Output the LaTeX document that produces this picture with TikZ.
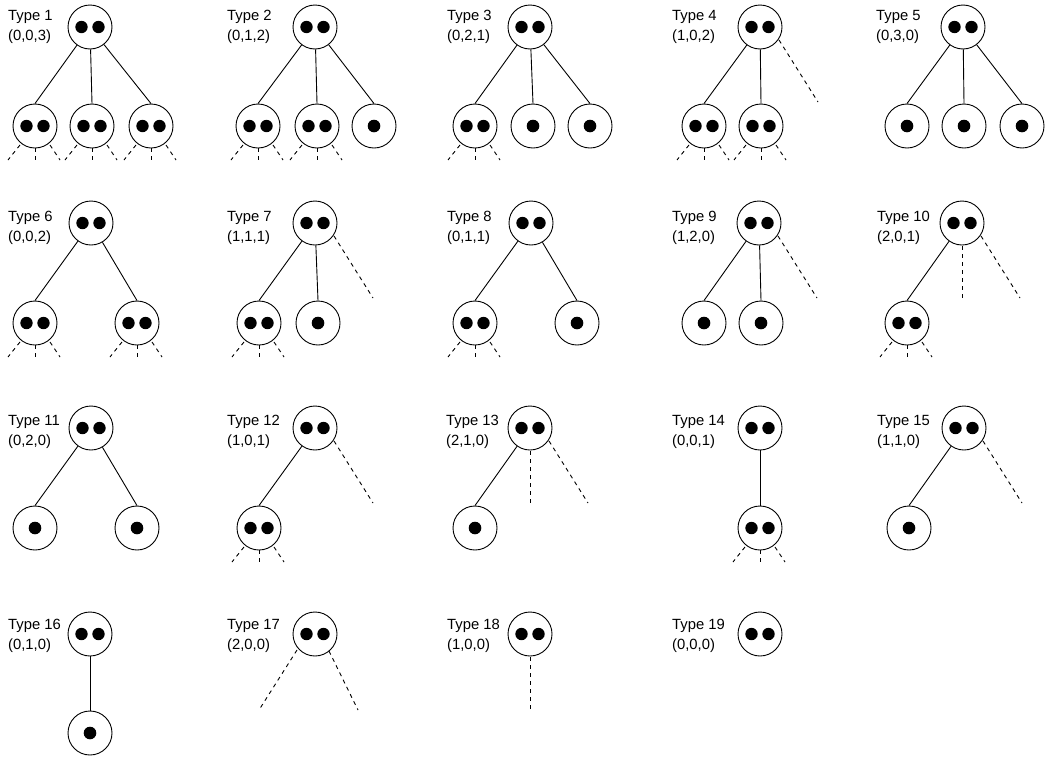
\documentclass[tikz,border=0pt]{standalone}
\usepackage{fontspec}
\setmainfont{Liberation Sans}
\begin{document}
\begin{tikzpicture}[x=1pt,y=-1pt,
  nd/.style={circle, draw, line width=0.9pt, minimum size=44pt, inner sep=0pt},
  dd/.style={nd, path picture={\fill ([xshift=-8.5pt]path picture bounding box.center) circle [radius=6.2pt];
                               \fill ([xshift=8.5pt]path picture bounding box.center) circle [radius=6.2pt];}},
  sd/.style={nd, path picture={\fill (path picture bounding box.center) circle [radius=6.3pt];}},
  edge/.style={line width=0.9pt},
  dl/.style={line width=0.9pt, dash pattern=on 4pt off 4pt},
  lbl/.style={anchor=west, align=left, inner sep=0pt, font=\fontsize{14.8}{20}\selectfont},
]
\useasboundingbox (0,0) rectangle (1046,758);
\newcommand\mystubs[1]{%
  \draw[dl] ([shift={(-15,19)}]#1.center) -- ([shift={(-27,34)}]#1.center);
  \draw[dl] ([shift={(0,22)}]#1.center) -- ([shift={(0,34)}]#1.center);
  \draw[dl] ([shift={(15,19)}]#1.center) -- ([shift={(25,34)}]#1.center);}
\newcommand\myrdash[1]{\draw[dl] ([shift={(19,13)}]#1.center) -- ([shift={(58,75)}]#1.center);}
\newcommand\myvdash[1]{\draw[dl] ([shift={(0,23)}]#1.center) -- ([shift={(0,77)}]#1.center);}

% ---------- Row 1 ----------
\node[lbl] (l1) at (8,27) {Type 1\\(0,0,3)};
\node[dd] (t1) at (90,27) {};
\node[dd] (t1a) at (35,126) {};
\node[dd] (t1b) at (92,126) {};
\node[dd] (t1c) at (151,126) {};
\draw[edge] (t1) -- (t1a.north); \draw[edge] (t1) -- (t1b.north); \draw[edge] (t1) -- (t1c.north);
\mystubs{t1a}\mystubs{t1b}\mystubs{t1c}

\node[lbl] (l2) at (227,27) {Type 2\\(0,1,2)};
\node[dd] (t2) at (315,27) {};
\node[dd] (t2a) at (258,126) {};
\node[dd] (t2b) at (317,126) {};
\node[sd] (t2c) at (374,126) {};
\draw[edge] (t2) -- (t2a.north); \draw[edge] (t2) -- (t2b.north); \draw[edge] (t2) -- (t2c.north);
\mystubs{t2a}\mystubs{t2b}

\node[lbl] (l3) at (447,27) {Type 3\\(0,2,1)};
\node[dd] (t3) at (530,27) {};
\node[dd] (t3a) at (475,126) {};
\node[sd] (t3b) at (533,126) {};
\node[sd] (t3c) at (590,126) {};
\draw[edge] (t3) -- (t3a.north); \draw[edge] (t3) -- (t3b.north); \draw[edge] (t3) -- (t3c.north);
\mystubs{t3a}

\node[lbl] (l4) at (672,27) {Type 4\\(1,0,2)};
\node[dd] (t4) at (760,27) {};
\node[dd] (t4a) at (704,126) {};
\node[dd] (t4b) at (761,126) {};
\draw[edge] (t4) -- (t4a.north); \draw[edge] (t4) -- (t4b.north);
\mystubs{t4a}\mystubs{t4b}
\myrdash{t4}

\node[lbl] (l5) at (876,27) {Type 5\\(0,3,0)};
\node[dd] (t5) at (963,27) {};
\node[sd] (t5a) at (907,126) {};
\node[sd] (t5b) at (964,126) {};
\node[sd] (t5c) at (1022,126) {};
\draw[edge] (t5) -- (t5a.north); \draw[edge] (t5) -- (t5b.north); \draw[edge] (t5) -- (t5c.north);

% ---------- Row 2 ----------
\node[lbl] (l6) at (8,228) {Type 6\\(0,0,2)};
\node[dd] (t6) at (91,223) {};
\node[dd] (t6a) at (35,323) {};
\node[dd] (t6b) at (137,323) {};
\draw[edge] (t6) -- (t6a.north); \draw[edge] (t6) -- (t6b.north);
\mystubs{t6a}\mystubs{t6b}

\node[lbl] (l7) at (227,228) {Type 7\\(1,1,1)};
\node[dd] (t7) at (315,223) {};
\node[dd] (t7a) at (259,323) {};
\node[sd] (t7b) at (318,323) {};
\draw[edge] (t7) -- (t7a.north); \draw[edge] (t7) -- (t7b.north);
\mystubs{t7a}
\myrdash{t7}

\node[lbl] (l8) at (447,228) {Type 8\\(0,1,1)};
\node[dd] (t8) at (531,223) {};
\node[dd] (t8a) at (475,323) {};
\node[sd] (t8b) at (577,323) {};
\draw[edge] (t8) -- (t8a.north); \draw[edge] (t8) -- (t8b.north);
\mystubs{t8a}

\node[lbl] (l9) at (672,228) {Type 9\\(1,2,0)};
\node[dd] (t9) at (759,223) {};
\node[sd] (t9a) at (704,323) {};
\node[sd] (t9b) at (761,323) {};
\draw[edge] (t9) -- (t9a.north); \draw[edge] (t9) -- (t9b.north);
\myrdash{t9}

\node[lbl] (l10) at (877,228) {Type 10\\(2,0,1)};
\node[dd] (t10) at (962,223) {};
\node[dd] (t10a) at (907,323) {};
\draw[edge] (t10) -- (t10a.north);
\mystubs{t10a}
\myvdash{t10}\myrdash{t10}

% ---------- Row 3 ----------
\node[lbl] (l11) at (8,432) {Type 11\\(0,2,0)};
\node[dd] (t11) at (91,428) {};
\node[sd] (t11a) at (35,528) {};
\node[sd] (t11b) at (137,528) {};
\draw[edge] (t11) -- (t11a.north); \draw[edge] (t11) -- (t11b.north);

\node[lbl] (l12) at (227,432) {Type 12\\(1,0,1)};
\node[dd] (t12) at (315,428) {};
\node[dd] (t12a) at (259,528) {};
\draw[edge] (t12) -- (t12a.north);
\mystubs{t12a}
\myrdash{t12}

\node[lbl] (l13) at (446,432) {Type 13\\(2,1,0)};
\node[dd] (t13) at (530,428) {};
\node[sd] (t13a) at (475,528) {};
\draw[edge] (t13) -- (t13a.north);
\myvdash{t13}\myrdash{t13}

\node[lbl] (l14) at (672,432) {Type 14\\(0,0,1)};
\node[dd] (t14) at (760,428) {};
\node[dd] (t14a) at (760,528) {};
\draw[edge] (t14) -- (t14a);
\mystubs{t14a}

\node[lbl] (l15) at (877,432) {Type 15\\(1,1,0)};
\node[dd] (t15) at (964,428) {};
\node[sd] (t15a) at (909,528) {};
\draw[edge] (t15) -- (t15a.north);
\myrdash{t15}

% ---------- Row 4 ----------
\node[lbl] (l16) at (8,636) {Type 16\\(0,1,0)};
\node[dd] (t16) at (90,634) {};
\node[sd] (t16a) at (90,733) {};
\draw[edge] (t16) -- (t16a);

\node[lbl] (l17) at (227,636) {Type 17\\(2,0,0)};
\node[dd] (t17) at (315,634) {};
\draw[dl] ([shift={(-18,16)}]t17.center) -- ([shift={(-56,76)}]t17.center);
\draw[dl] ([shift={(14,17)}]t17.center) -- ([shift={(43,76)}]t17.center);

\node[lbl] (l18) at (447,636) {Type 18\\(1,0,0)};
\node[dd] (t18) at (530,634) {};
\draw[dl] ([shift={(0,23)}]t18.center) -- ([shift={(0,78)}]t18.center);

\node[lbl] (l19) at (672,636) {Type 19\\(0,0,0)};
\node[dd] (t19) at (760,634) {};
\end{tikzpicture}
\end{document}
